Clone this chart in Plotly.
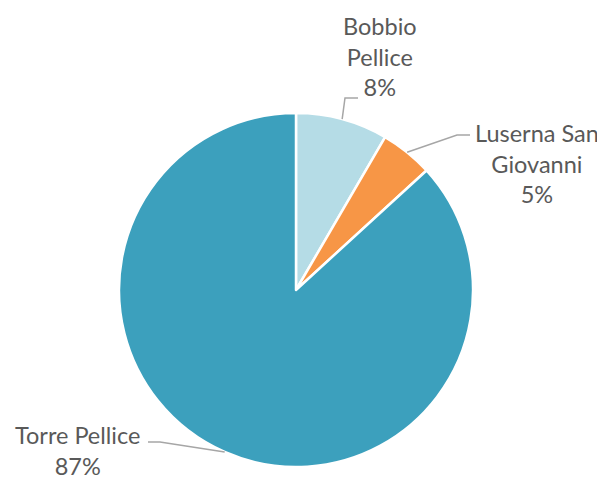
import math
import plotly.graph_objects as go

# data
towns = ["Bobbio<br>Pellice", "Luserna San<br>Giovanni", "Torre Pellice"]
shares = [8.4, 4.8, 86.8]
colors = ["#b5dce6", "#f79646", "#3ca0bd"]

W, H = 605, 477
OFF = 8  # page body margin
FW, FH = W - OFF, H - OFF
cx, cy, r = 296, 290, 177

# label centres and leader-line knees (window pixels)
label_pos = [(380, 56), (537, 164), (77, 450)]
knees = [((345, 98), (358, 98)), ((457, 135), (470, 135)), ((160, 442), (148, 442))]


def px(x, y):
    return (x - OFF) / FW, 1 - (y - OFF) / FH


fig = go.Figure(go.Pie(
    labels=[t.replace("<br>", " ") for t in towns],
    values=shares,
    sort=False,
    direction="clockwise",
    rotation=0,
    marker=dict(colors=colors, line=dict(color="white", width=2.5)),
    textinfo="none",
    hoverinfo="label+percent",
    showlegend=False,
    domain=dict(x=[px(cx - r, 0)[0], px(cx + r, 0)[0]], y=[px(0, cy + r)[1], px(0, cy - r)[1]]),
))

total = sum(shares)
cum = 0
shapes = []
annotations = []
for name, v, (lx, ly), (k1, k2) in zip(towns, shares, label_pos, knees):
    mid = (cum + v / 2) / total * 2 * math.pi
    cum += v
    ex, ey = cx + r * math.sin(mid), cy - r * math.cos(mid)
    pts = [px(ex, ey), px(*k1), px(*k2)]
    path = "M {} {} L {} {} L {} {}".format(*[c for p in pts for c in p])
    shapes.append(dict(type="path", path=path, xref="paper", yref="paper",
                       line=dict(color="#a6a6a6", width=1.5)))
    ax, ay = px(lx, ly)
    annotations.append(dict(
        x=ax, y=ay, xref="paper", yref="paper", showarrow=False,
        text=f"{name}<br>{round(v / total * 100)}%", align="center",
        xanchor="center", yanchor="middle",
        font=dict(family="Lato", size=23.5, color="#595959"),
    ))

fig.update_layout(
    width=FW, height=FH,
    margin=dict(l=0, r=0, t=0, b=0),
    paper_bgcolor="white", plot_bgcolor="white",
    shapes=shapes, annotations=annotations,
)

fig.write_html("out.html")
